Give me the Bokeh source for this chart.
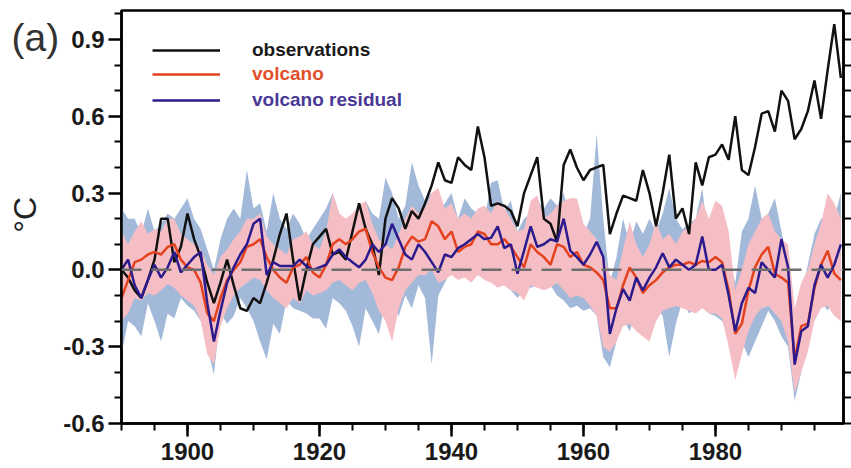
import math
from bokeh.plotting import figure
from bokeh.layouts import row
from bokeh.models import (ColumnDataSource, FixedTicker, LinearAxis, Span, Label,
                          Legend, LegendItem, Range1d)
from bokeh.embed import file_html
from bokeh.resources import INLINE

years = list(range(1890, 2000))

observations = [
    0.00, -0.03, -0.08, -0.11, -0.04, 0.04, 0.20, 0.20, 0.03, 0.09,
    0.22, 0.12, 0.05, -0.05, -0.13, -0.05, 0.04, -0.06, -0.15, -0.16,
    -0.11, -0.13, -0.05, 0.04, 0.14, 0.22, 0.04, -0.12, 0.00, 0.10,
    0.13, 0.16, 0.06, 0.07, 0.04, 0.15, 0.26, 0.16, 0.10, -0.02,
    0.20, 0.28, 0.24, 0.16, 0.23, 0.20, 0.26, 0.33, 0.42, 0.35,
    0.34, 0.44, 0.41, 0.39, 0.56, 0.44, 0.25, 0.26, 0.25, 0.23,
    0.17, 0.30, 0.37, 0.44, 0.20, 0.18, 0.11, 0.41, 0.47, 0.40,
    0.35, 0.39, 0.40, 0.41, 0.14, 0.22, 0.29, 0.28, 0.27, 0.39,
    0.30, 0.17, 0.30, 0.45, 0.20, 0.24, 0.14, 0.42, 0.33, 0.44,
    0.45, 0.49, 0.43, 0.60, 0.39, 0.37, 0.48, 0.61, 0.62, 0.54,
    0.70, 0.66, 0.51, 0.55, 0.62, 0.74, 0.59, 0.78, 0.96, 0.75,
]

volcano = [
    -0.11, -0.04, 0.03, 0.04, 0.06, 0.07, 0.06, 0.09, 0.10, 0.04,
    0.01, 0.00, -0.05, -0.17, -0.20, -0.11, -0.04, 0.00, 0.03, 0.09,
    0.10, 0.12, 0.05, 0.00, -0.03, -0.05, 0.01, 0.02, 0.05, -0.01,
    -0.03, 0.02, 0.10, 0.12, 0.10, 0.12, 0.15, 0.16, 0.07, 0.01,
    -0.03, -0.04, 0.01, 0.09, 0.13, 0.11, 0.12, 0.19, 0.17, 0.12,
    0.15, 0.07, 0.09, 0.10, 0.15, 0.14, 0.10, 0.10, 0.12, 0.09,
    0.05, 0.01, 0.10, 0.07, 0.05, 0.02, 0.10, 0.09, 0.05, 0.07,
    0.02, 0.01, -0.01, -0.04, -0.15, -0.15, -0.06, 0.01, -0.03, -0.09,
    -0.06, -0.04, -0.01, 0.01, 0.02, 0.02, 0.03, 0.02, 0.035, 0.03,
    0.05, 0.03, -0.08, -0.25, -0.21, -0.08, 0.01, 0.06, 0.09, -0.015,
    -0.03, -0.05, -0.35, -0.22, -0.21, -0.07, 0.02, 0.075, -0.015, -0.04,
]

residual = [
    0.00, 0.04, -0.06, -0.11, -0.04, 0.02, -0.03, 0.01, 0.07, -0.01,
    0.02, 0.05, 0.07, -0.13, -0.28, -0.16, -0.05, 0.01, 0.06, 0.10,
    0.18, 0.20, -0.02, 0.03, 0.015, 0.015, 0.015, 0.04, 0.015, 0.00,
    0.01, 0.02, 0.06, 0.08, 0.05, 0.03, 0.01, 0.04, 0.10, 0.07,
    0.10, 0.18, 0.12, 0.06, 0.04, 0.10, 0.07, 0.03, -0.01, 0.06,
    0.05, 0.085, 0.10, 0.12, 0.14, 0.12, 0.125, 0.17, 0.085, 0.10,
    -0.015, 0.075, 0.17, 0.09, 0.10, 0.12, 0.11, 0.20, 0.075, 0.05,
    0.02, 0.06, 0.11, 0.05, -0.25, -0.15, -0.075, -0.12, -0.03, -0.08,
    -0.03, 0.01, 0.065, 0.01, 0.04, 0.02, 0.00, 0.02, 0.13, 0.00,
    0.00, 0.02, -0.10, -0.24, -0.13, -0.07, -0.09, 0.03, 0.00, -0.03,
    0.12, 0.01, -0.37, -0.24, -0.22, -0.06, 0.02, -0.03, 0.02, 0.10,
]

volcano_upper = [
    0.15, 0.10, 0.15, 0.19, 0.14, 0.16, 0.15, 0.20, 0.20, 0.14,
    0.12, 0.10, 0.08, 0.02, -0.02, 0.05, 0.08, 0.12, 0.15, 0.20,
    0.20, 0.22, 0.13, 0.10, 0.08, 0.06, 0.12, 0.13, 0.15, 0.10,
    0.08, 0.15, 0.30, 0.22, 0.20, 0.22, 0.25, 0.27, 0.18, 0.12,
    0.10, 0.08, 0.14, 0.20, 0.25, 0.22, 0.24, 0.30, 0.32, 0.24,
    0.26, 0.20, 0.22, 0.20, 0.24, 0.25, 0.22, 0.27, 0.24, 0.20,
    0.15, 0.16, 0.27, 0.29, 0.20, 0.22, 0.25, 0.27, 0.28, 0.28,
    0.18, 0.15, 0.12, 0.06, -0.02, -0.04, 0.08, 0.19, 0.10, 0.05,
    0.10, 0.19, 0.12, 0.14, 0.10, 0.15, 0.17, 0.20, 0.27, 0.20,
    0.27, 0.25, 0.15, -0.08, 0.00, 0.10, 0.15, 0.20, 0.22, 0.15,
    0.12, 0.10, -0.15, -0.05, 0.00, 0.10, 0.18, 0.30, 0.26, 0.20,
]

volcano_lower = [
    -0.20, -0.17, -0.11, -0.12, -0.09, -0.10, -0.08, -0.055, -0.07, -0.10,
    -0.12, -0.14, -0.20, -0.33, -0.37, -0.22, -0.15, -0.10, -0.07, -0.05,
    -0.03, -0.04, -0.08, -0.11, -0.13, -0.15, -0.11, -0.13, -0.08, -0.10,
    -0.09, -0.08, -0.05, -0.04, -0.06, -0.08, -0.05, -0.04, -0.09, -0.16,
    -0.20, -0.28, -0.15, -0.08, -0.05, -0.02, -0.02, 0.00, -0.05, -0.04,
    -0.02, -0.04, -0.03, -0.05, -0.02, -0.04, -0.05, -0.07, -0.06, -0.08,
    -0.09, -0.12, -0.06, -0.07, -0.08, -0.07, -0.05, -0.08, -0.11, -0.10,
    -0.11, -0.14, -0.18, -0.30, -0.32, -0.28, -0.22, -0.21, -0.24, -0.26,
    -0.28, -0.20, -0.16, -0.15, -0.14, -0.15, -0.16, -0.17, -0.15, -0.17,
    -0.17, -0.19, -0.30, -0.43, -0.33, -0.24, -0.18, -0.15, -0.14, -0.17,
    -0.20, -0.28, -0.48, -0.40, -0.32, -0.20, -0.15, -0.14, -0.18, -0.20,
]

residual_upper = [
    0.24, 0.20, 0.20, 0.14, 0.24, 0.15, 0.18, 0.22, 0.20, 0.24,
    0.28, 0.20, 0.16, 0.08, 0.00, 0.12, 0.20, 0.24, 0.20, 0.39,
    0.24, 0.26, 0.15, 0.30, 0.20, 0.16, 0.22, 0.18, 0.12, 0.16,
    0.20, 0.24, 0.30, 0.22, 0.18, 0.12, 0.22, 0.27, 0.22, 0.20,
    0.36, 0.30, 0.20, 0.25, 0.42, 0.33, 0.27, 0.30, 0.23, 0.26,
    0.30, 0.20, 0.28, 0.24, 0.22, 0.20, 0.34, 0.35, 0.23, 0.27,
    0.15, 0.20, 0.22, 0.27, 0.24, 0.28, 0.25, 0.30, 0.20, 0.16,
    0.14, 0.20, 0.53, 0.20, -0.05, 0.05, 0.20, 0.10, 0.19, 0.14,
    0.20, 0.15, 0.22, 0.32, 0.20, 0.16, 0.18, 0.20, 0.32, 0.10,
    0.07, 0.10, 0.05, -0.05, 0.15, 0.20, 0.33, 0.20, 0.22, 0.28,
    0.15, 0.02, -0.20, -0.10, 0.02, 0.14, 0.20, 0.20, 0.20, 0.30,
]

residual_lower = [
    -0.33, -0.20, -0.22, -0.26, -0.13, -0.20, -0.28, -0.17, -0.19, -0.11,
    -0.14, -0.16, -0.20, -0.30, -0.41, -0.17, -0.21, -0.18, -0.11, -0.15,
    -0.20, -0.28, -0.35, -0.21, -0.25, -0.12, -0.15, -0.16, -0.17, -0.19,
    -0.19, -0.23, -0.11, -0.13, -0.16, -0.22, -0.30, -0.15, -0.20, -0.25,
    -0.12, -0.14, -0.18, -0.10, -0.15, -0.06, -0.11, -0.37, -0.10, -0.05,
    0.00, -0.03, 0.05, 0.02, 0.03, -0.02, -0.05, -0.03, -0.06, -0.08,
    -0.11, -0.08, -0.07, -0.06, -0.05, -0.06, -0.10, -0.12, -0.15, -0.14,
    -0.16, -0.15, -0.18, -0.34, -0.38, -0.28, -0.19, -0.24, -0.17, -0.20,
    -0.18, -0.14, -0.18, -0.34, -0.21, -0.12, -0.17, -0.15, -0.12, -0.17,
    -0.18, -0.20, -0.26, -0.30, -0.28, -0.34, -0.28, -0.22, -0.16, -0.20,
    -0.26, -0.30, -0.51, -0.40, -0.28, -0.19, -0.12, -0.16, -0.10, -0.12,
]

x_major = [1900, 1920, 1940, 1960, 1980]
x_minor = list(range(1890, 2000, 5))
y_major = [-0.6, -0.3, 0.0, 0.3, 0.6, 0.9]
y_major_labels = ["-0.6", "-0.3", "0.0", "0.3", "0.6", "0.9"]
y_minor = [-0.5, -0.4, -0.2, -0.1, 0.1, 0.2, 0.4, 0.5, 0.7, 0.8, 1.0]
y_all = sorted(y_major + y_minor)

series_labels = ["observations", "volcano", "volcano residual"]
panel_label = "(a)"
y_unit_label = "°C"

src = ColumnDataSource(dict(year=years, obs=observations, vol=volcano, res=residual,
                            vu=volcano_upper, vl=volcano_lower,
                            ru=residual_upper, rl=residual_lower))

TOP, BOTTOM = 10, 45
Y_RANGE = (-0.6, 1.013)
SIDE_W = 60

p = figure(width=851 - SIDE_W, height=468, output_backend="svg", toolbar_location=None,
           x_range=Range1d(1890, 1999.4), y_range=Range1d(*Y_RANGE),
           min_border_left=58, min_border_right=8, min_border_top=TOP,
           min_border_bottom=BOTTOM)
p.xgrid.visible = False
p.ygrid.visible = False
p.outline_line_color = "black"
p.outline_line_width = 2.5
p.outline_line_alpha = 1.0

BLUE_BAND = "#a3b9da"
PINK_BAND = "#f5bec5"
RED = "#e4421f"
NAVY = "#2b1b8c"

p.varea(x="year", y1="rl", y2="ru", source=src, fill_color=BLUE_BAND, fill_alpha=1.0)
p.varea(x="year", y1="vl", y2="vu", source=src, fill_color=PINK_BAND, fill_alpha=1.0)

p.add_layout(Span(location=0, dimension="width", line_color="#6e6e6e", line_width=2.5,
                  line_dash="20 10"))

r_obs = p.line(x="year", y="obs", source=src, line_color="#111111", line_width=2.5)
r_vol = p.line(x="year", y="vol", source=src, line_color=RED, line_width=2.5)
r_res = p.line(x="year", y="res", source=src, line_color=NAVY, line_width=2.5)

TICK_FONT = "Liberation Sans"

def style_axis(ax):
    ax.axis_line_width = 2.5
    ax.axis_line_color = "black"
    ax.major_tick_line_width = 2.5
    ax.minor_tick_line_width = 2
    ax.major_tick_line_color = "black"
    ax.minor_tick_line_color = "black"
    ax.major_tick_in = 0
    ax.minor_tick_in = 0
    ax.major_label_text_font = TICK_FONT
    ax.major_label_text_font_style = "bold"
    ax.major_label_text_font_size = "24px"
    ax.major_label_text_color = "#1a1a1a"

xa = p.xaxis[0]
style_axis(xa)
xa.ticker = FixedTicker(ticks=x_major, minor_ticks=x_minor)
xa.major_tick_out = 13
xa.minor_tick_out = 7
xa.major_label_standoff = 6

ya = p.yaxis[0]
style_axis(ya)
ya.ticker = FixedTicker(ticks=y_major, minor_ticks=y_minor)
ya.major_label_overrides = {v: s for v, s in zip(y_major, y_major_labels)}
ya.major_tick_out = 13
ya.minor_tick_out = 7
ya.major_label_standoff = 4

ra = LinearAxis()
style_axis(ra)
ra.ticker = FixedTicker(ticks=[], minor_ticks=y_all)
ra.major_label_standoff = 0
ra.axis_label_standoff = 0
ra.major_tick_out = 8
ra.minor_tick_out = 8
p.add_layout(ra, "right")

# legends, one per item so each label keeps its own colour
leg_colors = ["#1a1a1a", "#e0502c", "#4a3896"]
leg_renderers = [r_obs, r_vol, r_res]
leg_y = [362, 338, 312]
for lab, col, rr, ly in zip(series_labels, leg_colors, leg_renderers, leg_y):
    lg = Legend(items=[LegendItem(label=lab, renderers=[rr])], location=(31, ly),
                glyph_width=68, glyph_height=20, label_height=20,
                label_standoff=32, padding=0, margin=0, spacing=0,
                label_text_font=TICK_FONT, label_text_font_style="bold",
                label_text_font_size="19px", label_text_color=col,
                border_line_alpha=0, background_fill_alpha=0)
    p.add_layout(lg, "center")

# narrow side panel carrying the panel letter and the unit label
side = figure(width=SIDE_W, height=468, output_backend="svg", toolbar_location=None,
              x_range=Range1d(0, SIDE_W), y_range=Range1d(*Y_RANGE),
              min_border_left=0, min_border_right=0, min_border_top=TOP,
              min_border_bottom=BOTTOM)
side.axis.visible = False
side.xgrid.visible = False
side.ygrid.visible = False
side.outline_line_color = None
side.add_layout(Label(x=11, y=0.908, text=panel_label, text_font=TICK_FONT,
                      text_font_size="39px", text_color="#333333",
                      text_align="left", text_baseline="alphabetic"))
side.add_layout(Label(x=24, y=0.215, text=y_unit_label, text_font=TICK_FONT,
                      text_font_size="32px", text_color="#222222", angle=math.pi / 2,
                      text_align="center", text_baseline="middle"))

layout = row(side, p, spacing=0)
open("out.html", "w").write(file_html(layout, INLINE))
